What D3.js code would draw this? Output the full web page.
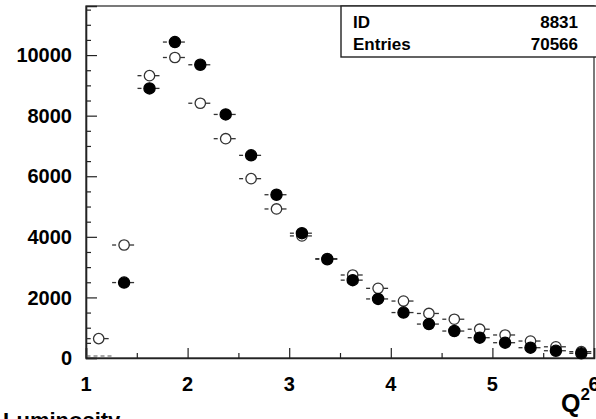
<!DOCTYPE html>
<html>
<head>
<meta charset="utf-8">
<script src="https://cdn.jsdelivr.net/npm/d3@7"></script>
<style>
  body { margin: 0; background: #fff; }
  svg { display: block; font-family: "Liberation Sans", Arial, sans-serif; }
</style>
</head>
<body>
<svg></svg>
<script>
const width = 596;
const height = 419;

// bin centres (Q^2) and contents of the two histograms
const binCenters = [1.125, 1.375, 1.625, 1.875, 2.125, 2.375, 2.625, 2.875, 3.125, 3.375,
                    3.625, 3.875, 4.125, 4.375, 4.625, 4.875, 5.125, 5.375, 5.625, 5.875];
const openValues = [640, 3730, 9320, 9920, 8410, 7240, 5920, 4920, 4030, 3280,
                    2740, 2300, 1880, 1470, 1280, 950, 760, 560, 370, 210];
const filledValues = [0, 2490, 8900, 10430, 9680, 8040, 6690, 5390, 4120, 3260,
                      2570, 1950, 1500, 1120, 890, 670, 505, 340, 240, 155];
const xTicks = [1, 2, 3, 4, 5, 6];
const yTicks = [0, 2000, 4000, 6000, 8000, 10000];
const statsRows = [['ID', '8831'], ['Entries', '70566']];

const padLeft = 86, padRight = 594, padTop = 6, padBottom = 358;

const svg = d3.select('svg')
  .attr('width', width)
  .attr('height', height);

const xScale = d3.scaleLinear().domain([1, 6]).range([padLeft, padRight]);
const yScale = d3.scaleLinear().domain([0, 11620]).range([padBottom, padTop]);

// frame
svg.append('rect')
  .attr('x', padLeft).attr('y', padTop)
  .attr('width', padRight - padLeft).attr('height', padBottom - padTop)
  .attr('fill', 'none').attr('stroke', '#222').attr('stroke-width', 1.2);

// axes with ticks pointing inwards
const xAxis = d3.axisBottom(xScale)
  .tickValues(d3.range(1, 6.01, 0.5))
  .tickSize(-10)
  .tickFormat('');
const gx = svg.append('g')
  .attr('transform', `translate(0, ${padBottom})`)
  .call(xAxis);
gx.selectAll('.tick line').attr('y2', d => Number.isInteger(d) ? -10 : -5);

const yAxis = d3.axisLeft(yScale)
  .tickValues(d3.range(0, 11501, 500))
  .tickSize(-11)
  .tickFormat('');
const gy = svg.append('g')
  .attr('transform', `translate(${padLeft}, 0)`)
  .call(yAxis);
gy.selectAll('.tick line').attr('x2', d => d % 2000 === 0 ? 11 : 5);

svg.selectAll('.domain').attr('stroke', '#222').attr('stroke-width', 1.6);
svg.selectAll('.tick line').attr('stroke', '#222').attr('stroke-width', 1.2);

// tick labels
svg.selectAll('.ylab')
  .data(yTicks)
  .enter()
  .append('text')
  .attr('x', 72)
  .attr('y', d => yScale(d))
  .attr('dy', '0.36em')
  .style('text-anchor', 'end')
  .style('font-size', '20px')
  .style('font-weight', 'bold')
  .text(d => d);

svg.selectAll('.xlab')
  .data(xTicks)
  .enter()
  .append('text')
  .attr('x', d => xScale(d))
  .attr('y', 391)
  .style('text-anchor', 'middle')
  .style('font-size', '20px')
  .style('font-weight', 'bold')
  .text(d => d);

// error bar dashes + markers
function drawSeries(values, filled) {
  const g = svg.append('g');
  const pts = binCenters.map((x, i) => ({ x: x, y: values[i] }));
  const nonZero = pts.filter(d => d.y > 0);
  g.selectAll('line.l')
    .data(nonZero).enter().append('line')
    .attr('x1', d => xScale(d.x) - 12).attr('x2', d => xScale(d.x) - 8)
    .attr('y1', d => yScale(d.y)).attr('y2', d => yScale(d.y))
    .attr('stroke', '#333').attr('stroke-width', 1.3);
  g.selectAll('line.r')
    .data(nonZero).enter().append('line')
    .attr('x1', d => xScale(d.x) + 4).attr('x2', d => xScale(d.x) + 10)
    .attr('y1', d => yScale(d.y)).attr('y2', d => yScale(d.y))
    .attr('stroke', '#333').attr('stroke-width', 1.3);
  // empty bins: only a dashed bar just above the axis
  g.selectAll('line.z')
    .data(pts.filter(d => d.y === 0)).enter().append('line')
    .attr('x1', d => xScale(d.x - 0.12)).attr('x2', d => xScale(d.x + 0.13))
    .attr('y1', d => yScale(d.y) - 2).attr('y2', d => yScale(d.y) - 2)
    .attr('stroke', '#555').attr('stroke-width', 1.2)
    .attr('stroke-dasharray', '4,3');
  g.selectAll('circle')
    .data(nonZero).enter().append('circle')
    .attr('cx', d => xScale(d.x))
    .attr('cy', d => yScale(d.y))
    .attr('r', filled ? 5.6 : 5.2)
    .attr('fill', filled ? '#000' : '#fff')
    .attr('stroke', filled ? '#000' : '#333')
    .attr('stroke-width', 1.3);
}
drawSeries(openValues, false);
drawSeries(filledValues, true);

// stats box
svg.append('rect')
  .attr('x', 341).attr('y', padTop)
  .attr('width', 260).attr('height', 51)
  .attr('fill', '#fff').attr('stroke', '#222').attr('stroke-width', 1.4);
statsRows.forEach((r, i) => {
  svg.append('text')
    .attr('x', 353).attr('y', 28 + i * 22)
    .style('font-size', '17px').style('font-weight', 'bold')
    .text(r[0]);
  svg.append('text')
    .attr('x', 578).attr('y', 28 + i * 22)
    .style('text-anchor', 'end')
    .style('font-size', '17px').style('font-weight', 'bold')
    .text(r[1]);
});

// axis title
const q = svg.append('text')
  .attr('x', 561).attr('y', 412)
  .style('font-size', '25px').style('font-weight', 'bold');
q.append('tspan').text('Q');
q.append('tspan').attr('dy', -12).style('font-size', '17px').text('2');

// caption cut by the bottom edge
svg.append('text')
  .attr('x', 3).attr('y', 428)
  .style('font-size', '22px').style('font-weight', 'bold')
  .text('Luminosity');
</script>
</body>
</html>
